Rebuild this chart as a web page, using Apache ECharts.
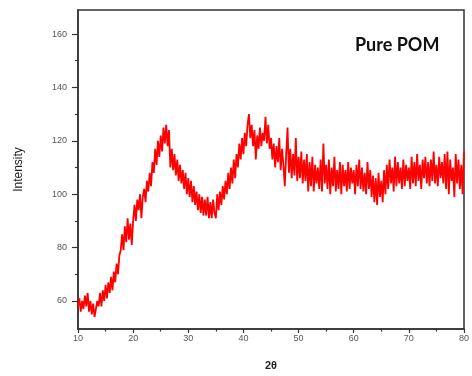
<!DOCTYPE html>
<html>
<head>
<meta charset="utf-8">
<script src="https://cdn.jsdelivr.net/npm/echarts@6/dist/echarts.min.js"></script>
<style>
  html, body { margin: 0; padding: 0; background: #fff; }
  #chart { width: 472px; height: 376px; }
</style>
</head>
<body>
<div id="chart"></div>
<script>
// XRD scan of pure POM: intensity sampled every 0.25 degree of 2θ from 10 to 80
const angleStart = 10;
const angleStep = 0.25;
const intensity = [
  58, 61, 56, 60,   57, 62, 58, 63,   56, 60, 55, 59,   54, 57, 60, 58,
  63, 58, 64, 60,   66, 61, 67, 63,   69, 64, 71, 67,   74, 70, 77, 79,
  85, 79, 88, 82,   91, 83, 89, 81,   90, 96, 90, 98,   94, 100, 91, 99,
  102, 97, 105, 101, 108, 103, 112, 108, 117, 111, 120, 114, 122, 116, 125, 119,
  126, 118, 124, 110, 117, 109, 115, 107, 113, 105, 111, 104, 109, 102, 108, 100,
  106, 99, 105, 97,  103, 96, 101, 94,  100, 93, 99, 92,   98, 92, 99, 91,
  97, 91, 98, 93,    91, 100, 94, 101,  96, 103, 98, 105,  100, 108, 102, 110,
  104, 113, 106, 115, 110, 119, 113, 121, 115, 123, 118, 126, 130, 121, 126, 118,
  124, 113, 122, 117, 125, 118, 123, 120, 129, 119, 126, 117,
  121, 113, 119, 110, 118, 112, 121, 109, 117, 111, 103, 115, 125, 108, 117, 106,
  115, 107, 121, 105, 114, 106, 116, 104, 113, 105, 115, 101, 112, 103, 114, 101,
  111, 104, 110, 102, 113, 101, 119, 104, 111, 102, 113, 100, 110, 103, 114, 101,
  109, 102, 112, 100, 111, 103, 109, 101, 112, 102, 110, 104, 109, 100, 111, 103,
  113, 102, 110, 101, 108, 100, 112, 102, 109, 99, 107, 97,  106, 96, 108, 99,
  105, 97, 109, 100, 111, 102, 113, 104, 110, 101, 114, 103, 112, 104, 110, 102,
  113, 103, 111, 105, 110, 102, 114, 104, 112, 103, 115, 105, 111, 102, 113, 106,
  114, 104, 112, 103, 113, 105, 116, 104, 111, 103, 114, 106, 112, 104, 115, 102,
  116, 100, 113, 105, 110, 99, 115, 104, 113, 102, 111, 100,
  116
];

// axis ticks
const xTicks = [10, 20, 30, 40, 50, 60, 70, 80];
const yTicks = [60, 80, 100, 120, 140, 160];
const yMinorTicks = [70, 90, 110, 130, 150];

const points = intensity.map((v, i) => [angleStart + i * angleStep, v]);

const chart = echarts.init(document.getElementById('chart'), null, { renderer: 'canvas' });

const labelStyle = { color: '#555', fontSize: 9, fontFamily: 'Liberation Sans, Arial, sans-serif' };

chart.setOption({
  animation: false,
  backgroundColor: '#fff',
  title: {
    text: 'Pure POM',
    left: 350,
    top: 31,
    textStyle: { fontFamily: 'Lato, sans-serif', fontWeight: 'bold', fontSize: 18, color: '#111' }
  },
  grid: {
    left: 78, right: 5, top: 10, bottom: 47,
    show: true, borderColor: '#333', borderWidth: 1.5, backgroundColor: 'transparent'
  },
  xAxis: {
    type: 'value',
    min: xTicks[0],
    max: xTicks[xTicks.length - 1],
    interval: 10,
    name: '2θ',
    nameLocation: 'middle',
    nameGap: 31,
    nameTextStyle: { fontFamily: 'Liberation Sans, Arial, sans-serif', fontWeight: 'bold', fontSize: 11, color: '#222' },
    axisLine: { lineStyle: { color: '#333', width: 1.5 } },
    axisTick: { inside: false, length: 4, lineStyle: { color: '#333', width: 1.2 } },
    minorTick: { show: true, splitNumber: 2, length: 2.5, lineStyle: { color: '#333', width: 1.2 } },
    axisLabel: Object.assign({ margin: 5 }, labelStyle),
    splitLine: { show: false }
  },
  yAxis: [
    {
      type: 'value',
      min: 49.5,
      max: 169,
      name: 'Intensity',
      nameLocation: 'middle',
      nameGap: 53,
      nameRotate: 90,
      nameTextStyle: { fontFamily: 'Liberation Sans, Arial, sans-serif', fontSize: 12, color: '#222' },
      axisLine: { show: true, lineStyle: { color: '#333', width: 1.5 } },
      axisTick: { show: true, inside: false, length: 6, customValues: yTicks, lineStyle: { color: '#333', width: 1.2 } },
      axisLabel: Object.assign({ margin: 11, customValues: yTicks }, labelStyle),
      splitLine: { show: false }
    },
    {
      type: 'value',
      min: 49.5,
      max: 169,
      position: 'left',
      axisLine: { show: false },
      axisTick: { show: true, inside: false, length: 3, customValues: yMinorTicks, lineStyle: { color: '#333', width: 1.2 } },
      axisLabel: { show: false },
      splitLine: { show: false }
    }
  ],
  series: [{
    type: 'line',
    data: points,
    showSymbol: false,
    clip: true,
    lineStyle: { color: '#ff0000', width: 1.8 },
    emphasis: { disabled: true }
  }]
});
</script>
</body>
</html>
